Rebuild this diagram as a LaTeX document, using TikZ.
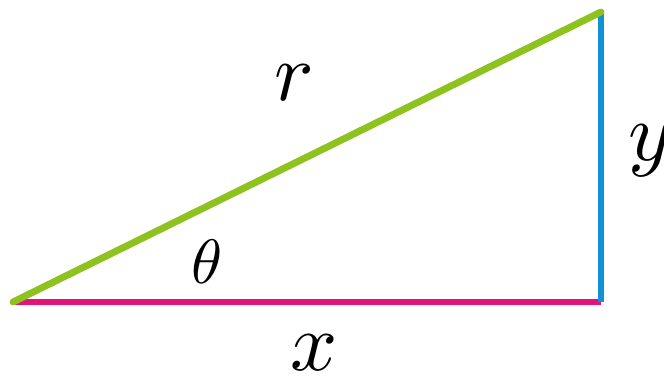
\documentclass[tikz,border=0pt]{standalone}
\definecolor{hypgreen}{HTML}{8DC21F}
\definecolor{legblue}{HTML}{1290D8}
\definecolor{legmag}{HTML}{E0147A}
\tikzset{
  side/.style={line width=5.2pt},
  lbl/.style={anchor=base, inner sep=0pt, scale=6.2},
  anglbl/.style={anchor=base, inner sep=0pt, scale=4.7}
}
\begin{document}
\begin{tikzpicture}[x=0.75pt,y=-0.75pt]
\useasboundingbox (0,0) rectangle (664,378);
\coordinate (A) at (13,302);
\coordinate (B) at (601,302);
\coordinate (C) at (601,12);
\draw[side, legmag] (A) -- (B);
\draw[side, legblue] (B) -- (C);
\draw[side, hypgreen, line cap=round] (A) -- (C);
\node[lbl] (r) at (294,100) {$r$};
\node[lbl] (y) at (650,161) {$y$};
\node[anglbl] (t) at (207,283) {$\theta$};
\node[lbl] (x) at (314,370) {$x$};
\end{tikzpicture}
\end{document}
